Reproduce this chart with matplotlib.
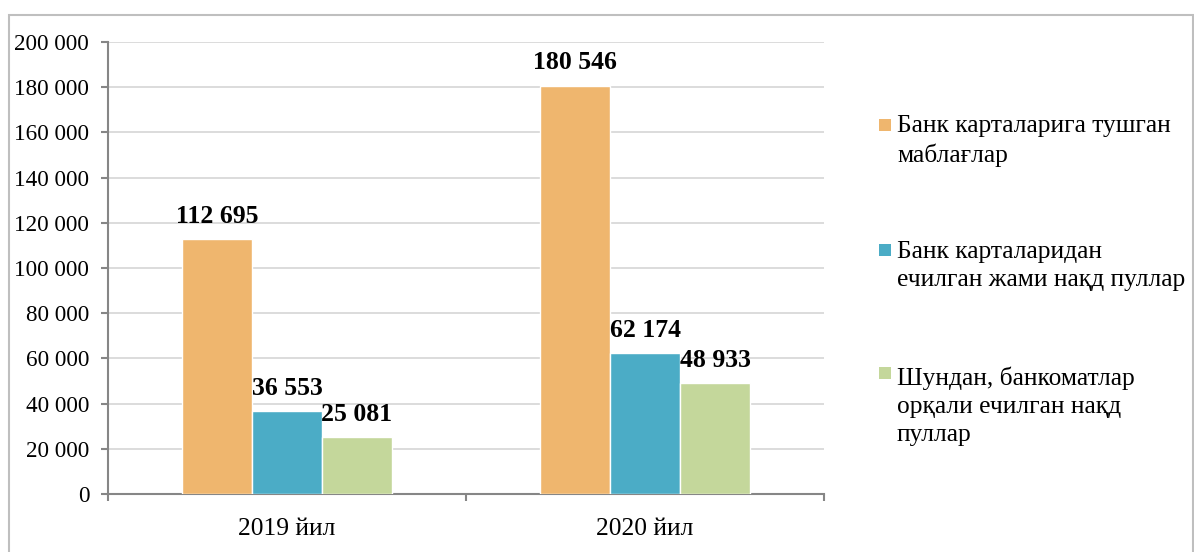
import matplotlib
matplotlib.use("Agg")
import matplotlib.pyplot as plt
from matplotlib.patches import Rectangle
from matplotlib.ticker import FuncFormatter, FixedLocator
import numpy as np

plt.rcParams["font.family"] = ["Liberation Serif", "DejaVu Serif"]

# data
years = ["2019 йил", "2020 йил"]
series_names = [
    "Банк карталарига тушган\nмаблағлар",
    "Банк карталаридан\nечилган жами нақд пуллар",
    "Шундан, банкоматлар\nорқали ечилган нақд\nпуллар",
]
cards_in = [112695, 180546]
cash_total = [36553, 62174]
cash_atm = [25081, 48933]
values = [cards_in, cash_total, cash_atm]
colors = ["#EFB66E", "#4BACC6", "#C4D79B"]

W, H = 1194, 552
fig = plt.figure(figsize=(W / 100, H / 100), dpi=100)
ax = fig.add_axes([108 / W, 1 - 494 / H, (824 - 108) / W, (494 - 42) / H])

x = np.arange(len(years))
bw = 70 / 358
for i, (vals, col) in enumerate(zip(values, colors)):
    pos = x + (i - 1) * bw
    ax.bar(pos, vals, width=bw, color=col, edgecolor="white", linewidth=1, zorder=3)
    for px, v in zip(pos, vals):
        ax.annotate(f"{v:,}".replace(",", " "), (px, v), xytext=(0, 12),
                    textcoords="offset points", ha="center", va="baseline",
                    fontsize=18.5, fontweight="bold", zorder=4)

ax.set_xlim(-0.5, 1.5)
ax.set_ylim(0, 200000)
ax.set_yticks(np.arange(0, 200001, 20000))
ax.yaxis.set_major_formatter(FuncFormatter(lambda v, p: f"{int(v):,}".replace(",", " ")))
ax.grid(axis="y", color="#D9D9D9", linewidth=1.3, zorder=0)
ax.set_axisbelow(True)

ax.set_xticks(x)
ax.set_xticklabels(years)
ax.tick_params(axis="x", which="major", length=0, labelsize=18.4, pad=17)
ax.xaxis.set_minor_locator(FixedLocator([-0.5, 0.5, 1.5]))
ax.tick_params(axis="x", which="minor", length=5, width=1.5, color="#868686")
ax.tick_params(axis="y", length=5, width=1.5, color="#868686", labelsize=16.7, pad=8.5)

for s in ["top", "right"]:
    ax.spines[s].set_visible(False)
for s in ["left", "bottom"]:
    ax.spines[s].set_color("#868686")
    ax.spines[s].set_linewidth(1.5)

# legend drawn by hand so the marker sits on the first text line
leg_marker_y = [125, 250, 373]
leg_base_y = [133, 257, 383]
line_px = 29
for name, col, my, by in zip(series_names, colors, leg_marker_y, leg_base_y):
    fig.patches.append(Rectangle(((885 - 6) / W, 1 - (my + 6) / H), 12 / W, 12 / H,
                                 transform=fig.transFigure, facecolor=col,
                                 edgecolor="none"))
    last_base = by + (name.count("\n")) * line_px
    fig.text(897 / W, 1 - last_base / H, name, fontsize=18.4, va="baseline",
             ha="left", linespacing=1.35)

# outer chart border
fig.patches.append(Rectangle((9 / W, -0.02), (W - 10) / W, 1 - 15 / H + 0.02,
                             transform=fig.transFigure, fill=False,
                             edgecolor="#BFBFBF", linewidth=1.5))

fig.savefig("out.png", dpi=100)
